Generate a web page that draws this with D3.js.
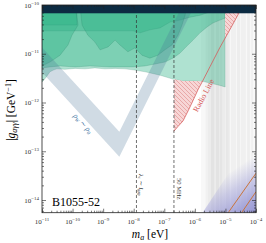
<!DOCTYPE html>
<html>
<head>
<meta charset="utf-8">
<script src="https://cdn.jsdelivr.net/npm/d3@7"></script>
<style>
body { margin: 0; background: #fff; }
svg { display: block; }
text { font-family: "Liberation Serif", "DejaVu Serif", serif; }
</style>
</head>
<body>
<div class="chart"></div>
<script>

// tick exponents
const xTickExp = [-11, -10, -9, -8, -7, -6, -5, -4]
const yTickExp = [-10, -11, -12, -13, -14]

// all shapes as [log10 m_a, log10 g]
const greenLayers = [
  [[-11,-10],[-5.01,-10],[-5.01,-11.68],[-5.24,-11.64],[-5.50,-11.60],[-5.73,-11.57],[-6.00,-11.56],[-6.39,-11.56],[-6.72,-11.52],[-7.14,-11.44],[-7.63,-11.37],[-8.02,-11.33],[-8.29,-11.31],[-8.61,-11.30],[-8.94,-11.31],[-9.27,-11.29],[-9.59,-11.31],[-9.92,-11.30],[-10.25,-11.32],[-10.51,-11.31],[-10.61,-11.33],[-10.74,-11.37],[-10.84,-11.46],[-10.94,-11.54],[-11,-11.58]],
  [[-11,-10],[-5.01,-10],[-5.01,-10.27],[-5.18,-10.31],[-5.41,-10.37],[-5.60,-10.45],[-5.83,-10.57],[-6.06,-10.72],[-6.29,-10.86],[-6.49,-10.99],[-6.72,-11.09],[-6.98,-11.17],[-7.30,-11.21],[-7.63,-11.25],[-8.02,-11.27],[-8.29,-11.27],[-8.78,-11.27],[-9.43,-11.25],[-9.92,-11.27],[-10.41,-11.25],[-10.74,-11.27],[-11,-11.29]],
  [[-11,-10],[-5.34,-10],[-5.50,-10.14],[-5.83,-10.21],[-6.16,-10.25],[-6.49,-10.31],[-6.81,-10.35],[-7.14,-10.47],[-7.47,-10.51],[-7.79,-10.57],[-8.02,-10.53],[-11,-10.53]],
  [[-11,-10],[-9.86,-10],[-9.86,-10.41],[-11,-10.41]],
  [[-9.76,-10],[-9.69,-10.41],[-9.50,-10.62],[-9.27,-10.76],[-9.10,-10.92],[-8.84,-10.86],[-8.61,-10.72],[-8.45,-10.82],[-8.19,-10.96],[-7.96,-10.88],[-7.73,-11.03],[-7.47,-11.09],[-7.21,-11.03],[-6.98,-10.92],[-6.75,-10.82],[-6.55,-10.62],[-6.42,-10.41],[-6.32,-10.21],[-6.26,-10]],
  [[-11,-10],[-9.92,-10],[-9.82,-10.41],[-10.02,-10.62],[-10.15,-10.82],[-10.41,-11.03],[-10.74,-11.17],[-11,-11.25]]
]

const vBand = [[-11,-10.87],[-8.47,-12.60],[-6.40,-10],[-6.00,-10],[-8.47,-13.11],[-11,-11.38]]

const radioLine = [[-6.69,-12.59],[-6.55,-12.49],[-6.39,-12.38],[-6.22,-12.17],[-6.06,-11.96],[-5.90,-11.74],[-5.73,-11.54],[-5.50,-11.26],[-5.18,-10.87],[-4.85,-10.50],[-4.58,-10.19],[-4.43,-10]]
const radioLeftEdge = -6.69

const dashedLines = [-7.91, -6.684]

// [log m low, log m high, opacity]
const grayStrips = [
  [-5.80,-4.00,0.05],[-5.65,-4.90,0.05],[-5.57,-5.01,0.04],[-5.47,-5.37,0.07],[-5.31,-5.21,0.07],[-5.18,-5.11,0.06],
  [-4.98,-4.85,0.07],[-4.82,-4.65,0.06],[-4.62,-4.52,0.08],[-4.49,-4.33,0.06],[-4.29,-4.20,0.07],[-4.16,-4.10,0.05]
]

const purpleWedge = [[-5.75,-14.26],[-4.00,-12.60],[-4.00,-14.26]]
const orangeLines = [
  [[-4.91,-14.26],[-4.00,-13.45]],
  [[-4.47,-14.26],[-4.00,-13.83]]
]
const topBand = [-10.17, -10]

let svg = d3.select(".chart").append("svg").attr("width", 266).attr("height", 243),
    pLeft = 42, pRight = 256, pTop = 5, pBottom = 212.7

let x = d3.scaleLog().domain([1e-11, 1e-4]).range([pLeft, pRight])
let y = d3.scaleLog().domain([Math.pow(10, -14.26), 1e-10]).range([pBottom, pTop])

let line = d3.line()
  .x(p => x(Math.pow(10, p[0])))
  .y(p => y(Math.pow(10, p[1])))
let area = pts => line(pts) + "Z"

let defs = svg.append("defs")
defs.append("clipPath").attr("id", "clip")
  .append("rect").attr("x", pLeft).attr("y", pTop).attr("width", pRight - pLeft).attr("height", pBottom - pTop)

let hatch = defs.append("pattern").attr("id", "hatch")
  .attr("patternUnits", "userSpaceOnUse").attr("width", 4).attr("height", 4)
hatch.append("rect").attr("width", 4).attr("height", 4).attr("fill", "#f7d6d6")
hatch.append("path").attr("d", "M0,0L4,4M-1,3L1,5M3,-1L5,1")
  .attr("stroke", "#d97a7a").attr("stroke-width", 0.5)

let redPoly = radioLine.concat([[radioLeftEdge, -10]])
let mask = defs.append("mask").attr("id", "redMask")
mask.append("rect").attr("x", 0).attr("y", 0).attr("width", 266).attr("height", 243).attr("fill", "black")
mask.append("path").attr("d", area(redPoly)).attr("fill", "white")
mask.append("path").attr("d", area(greenLayers[0])).attr("fill", "black")

let pw = purpleWedge.map(p => [x(Math.pow(10, p[0])), y(Math.pow(10, p[1]))])
let mid = [(pw[0][0] + pw[1][0]) / 2, (pw[0][1] + pw[1][1]) / 2]
let grad = defs.append("linearGradient").attr("id", "purple")
  .attr("gradientUnits", "userSpaceOnUse")
  .attr("x1", mid[0]).attr("y1", mid[1]).attr("x2", pw[2][0]).attr("y2", pw[2][1])
grad.append("stop").attr("offset", 0).attr("stop-color", "#a3a3dc").attr("stop-opacity", 0)
grad.append("stop").attr("offset", 0.35).attr("stop-color", "#9f9fda").attr("stop-opacity", 0.45)
grad.append("stop").attr("offset", 0.75).attr("stop-color", "#9595d4").attr("stop-opacity", 0.8)
grad.append("stop").attr("offset", 1).attr("stop-color", "#8c8cd0").attr("stop-opacity", 0.9)

let plot = svg.append("g").attr("clip-path", "url(#clip)")

plot.selectAll(".strip")
  .data(grayStrips)
  .enter().append("rect")
  .attr("x", d => x(Math.pow(10, d[0])))
  .attr("width", d => x(Math.pow(10, d[1])) - x(Math.pow(10, d[0])))
  .attr("y", pTop).attr("height", pBottom - pTop)
  .attr("fill", "#777").attr("opacity", d => d[2])

plot.append("path").attr("d", area(purpleWedge)).attr("fill", "url(#purple)")

plot.selectAll(".green")
  .data(greenLayers)
  .enter().append("path")
  .attr("d", area)
  .attr("fill", "#2db487").attr("fill-opacity", 0.38)
  .attr("stroke", "#1f6e55").attr("stroke-opacity", 0.35).attr("stroke-width", 0.5)

plot.append("path").attr("d", area(vBand)).attr("fill", "#4a7396").attr("opacity", 0.26)

plot.append("path").attr("d", area(redPoly)).attr("fill", "url(#hatch)").attr("mask", "url(#redMask)")
plot.append("path").attr("d", line(radioLine)).attr("fill", "none")
  .attr("stroke", "#d65a5a").attr("stroke-width", 0.8)

plot.selectAll(".dash")
  .data(dashedLines)
  .enter().append("line")
  .attr("x1", d => x(Math.pow(10, d))).attr("x2", d => x(Math.pow(10, d)))
  .attr("y1", pTop).attr("y2", pBottom)
  .attr("stroke", "#333").attr("stroke-width", 0.7).attr("stroke-dasharray", "3,2")

plot.selectAll(".orange")
  .data(orangeLines)
  .enter().append("path")
  .attr("d", line)
  .attr("fill", "none").attr("stroke", "#c8743c").attr("stroke-width", 1)

plot.append("rect")
  .attr("x", pLeft).attr("width", pRight - pLeft)
  .attr("y", y(Math.pow(10, topBand[1]))).attr("height", y(Math.pow(10, topBand[0])) - y(Math.pow(10, topBand[1])))
  .attr("fill", "#0c2b42")

// text in the plot
svg.append("text").attr("x", 52).attr("y", 206).attr("font-size", 12).text("B1055-52")

let radioX = x(Math.pow(10, -5.93)), radioY = y(Math.pow(10, -11.80))
svg.append("text")
  .attr("transform", `translate(${radioX + 9},${radioY + 4}) rotate(-62)`)
  .attr("text-anchor", "middle").attr("font-size", 8).attr("fill", "#d65a5a")
  .text("Radio Line")

let rho = svg.append("text")
  .attr("transform", `translate(${x(Math.pow(10, -9.72))},${y(Math.pow(10, -12.46))}) rotate(47.5)`)
  .attr("text-anchor", "middle").attr("font-size", 7.5).attr("fill", "#3b6fa0").attr("font-style", "italic")
rho.append("tspan").text("ρ")
rho.append("tspan").attr("font-size", 5).attr("dy", 1.5).text("W")
rho.append("tspan").attr("dy", -1.5).text(" ∼ ρ")
rho.append("tspan").attr("font-size", 5).attr("dy", 1.5).text("0")

let lam = svg.append("text")
  .attr("transform", `translate(${x(Math.pow(10, dashedLines[0])) + 3},174) rotate(90)`)
  .attr("font-size", 6.5).attr("fill", "#333")
lam.append("tspan").attr("font-style", "italic").text("λ")
lam.append("tspan").attr("font-size", 4.5).attr("dy", 1.2).text("c")
lam.append("tspan").attr("dy", -1.2).text(" ∼ ")
lam.append("tspan").attr("font-style", "italic").text("l")
lam.append("tspan").attr("font-size", 4.5).attr("dy", 1.2).text("gap")

svg.append("text")
  .attr("transform", `translate(${x(Math.pow(10, dashedLines[1])) + 3},178) rotate(90)`)
  .attr("font-size", 6.5).attr("fill", "#333").text("50 MHz")

// axes
let minor = d => {
  let out = []
  for (let e = d[0]; e < d[1]; e++) for (let k = 2; k < 10; k++) out.push(k * Math.pow(10, e))
  return out
}
let xMajor = xTickExp.map(e => Math.pow(10, e))
let yMajor = yTickExp.map(e => Math.pow(10, e))
let xMinor = minor([-11, -4])
let yMinor = minor([-15, -10]).filter(v => v >= Math.pow(10, -14.26))

let axes = [
  [d3.axisBottom(x), `translate(0,${pBottom})`, xMajor, xMinor],
  [d3.axisTop(x), `translate(0,${pTop})`, xMajor, xMinor],
  [d3.axisLeft(y), `translate(${pLeft},0)`, yMajor, yMinor],
  [d3.axisRight(y), `translate(${pRight},0)`, yMajor, yMinor]
]
axes.forEach(a => {
  svg.append("g").attr("transform", a[1])
    .call(a[0].tickValues(a[2]).tickSize(-4).tickSizeOuter(0).tickFormat(""))
    .call(g => g.select(".domain").remove())
  svg.append("g").attr("transform", a[1])
    .call(a[0].tickValues(a[3]).tickSize(-2).tickSizeOuter(0).tickFormat(""))
    .call(g => g.select(".domain").remove())
})
svg.selectAll(".tick line").attr("stroke", "#222").attr("stroke-width", 0.6)

svg.append("rect").attr("x", pLeft).attr("y", pTop).attr("width", pRight - pLeft).attr("height", pBottom - pTop)
  .attr("fill", "none").attr("stroke", "#222").attr("stroke-width", 0.8)

let xl = svg.selectAll(".xlab").data(xTickExp).enter().append("text")
  .attr("x", d => x(Math.pow(10, d))).attr("y", 224)
  .attr("text-anchor", "middle").attr("font-size", 7).attr("fill", "#333")
xl.append("tspan").text("10")
xl.append("tspan").attr("font-size", 5).attr("dy", -3).text(d => "−" + Math.abs(d))

let yl = svg.selectAll(".ylab").data(yTickExp).enter().append("text")
  .attr("x", 39).attr("y", d => y(Math.pow(10, d)) + 2.5)
  .attr("text-anchor", "end").attr("font-size", 7).attr("fill", "#333")
yl.append("tspan").text("10")
yl.append("tspan").attr("font-size", 5).attr("dy", -3).text(d => "−" + Math.abs(d))

let xt = svg.append("text").attr("x", 150).attr("y", 238).attr("text-anchor", "middle").attr("font-size", 11.5)
xt.append("tspan").attr("font-style", "italic").text("m")
xt.append("tspan").attr("font-size", 8).attr("dy", 2).attr("font-style", "italic").text("a")
xt.append("tspan").attr("dy", -2).text(" [eV]")

let yt = svg.append("text").attr("transform", "translate(15,110) rotate(-90)")
  .attr("text-anchor", "middle").attr("font-size", 11.5)
yt.append("tspan").text("|")
yt.append("tspan").attr("font-style", "italic").text("g")
yt.append("tspan").attr("font-size", 8).attr("dy", 2).attr("font-style", "italic").text("aγγ")
yt.append("tspan").attr("dy", -2).text("| [GeV")
yt.append("tspan").attr("font-size", 8).attr("dy", -4).text("−1")
yt.append("tspan").attr("dy", 4).text("]")

</script>
</body>
</html>
